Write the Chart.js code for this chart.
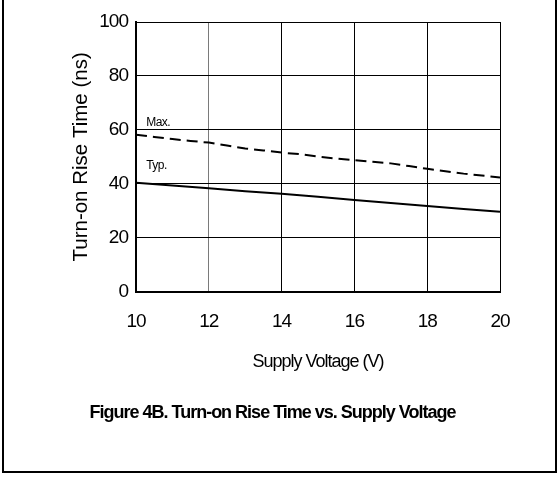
<!DOCTYPE html>
<html>
<head>
<meta charset="utf-8">
<title>Turn-on Rise Time vs. Supply Voltage</title>
<script src="https://cdn.jsdelivr.net/npm/chart.js@4/dist/chart.umd.min.js"></script>
<style>
  html, body { margin: 0; padding: 0; background: #fff; }
  #wrap { position: relative; width: 560px; height: 482px; overflow: hidden; }
  #frame {
    position: absolute; left: 2px; top: -4px; width: 551px; height: 475px;
    border-left: 2px solid #000; border-right: 2px solid #000; border-bottom: 2px solid #000;
    pointer-events: none;
  }
  canvas { position: absolute; left: 0; top: 0; }
</style>
</head>
<body>
<div id="wrap">
  <canvas id="chart" width="560" height="482"></canvas>
  <div id="frame"></div>
</div>
<script>
// Supply voltage (V) and rise time (ns) for the two curves
const maxVolts = [10, 10.5, 11, 11.5, 12, 12.5, 13, 13.5, 14, 14.5, 15, 15.5, 16, 16.5, 17, 17.5, 18, 18.5, 19, 19.5, 20];
const maxTime  = [58.2, 57.4, 56.6, 55.9, 55.3, 54.2, 53.1, 52.4, 51.6, 51.0, 50.1, 49.4, 48.8, 48.2, 47.6, 46.6, 45.6, 44.7, 43.8, 43.1, 42.4];
const typVolts = [10, 11, 12, 13, 14, 15, 16, 17, 18, 19, 20];
const typTime  = [40.4, 39.4, 38.4, 37.3, 36.3, 35.2, 34.0, 32.9, 31.8, 30.7, 29.7];

// Axis ranges and tick steps
const xTicks = { min: 10, max: 20, step: 2 };
const yTicks = { min: 0, max: 100, step: 20 };

// Curve labels, anchored in data units (left edge / baseline)
const curveLabels = [
  { text: 'Max.', x: 10.28, y: 61.3 },
  { text: 'Typ.', x: 10.28, y: 45.7 }
];

const FONT = "'Liberation Sans', Arial, Helvetica, sans-serif";
Chart.defaults.font.family = FONT;
Chart.defaults.color = '#000';

const toPoints = (xs, ys) => xs.map((x, i) => ({ x: x, y: ys[i] }));

// Letter spacing per font size: the axis title keeps normal spacing,
// the other texts are set tight.
function spacingFor(font) {
  if (font.indexOf('20.5px') !== -1) return '0px';
  if (font.indexOf('12px') !== -1) return '-0.5px';
  return '-1px';
}
const tightText = {
  id: 'tightText',
  beforeInit(chart) {
    const ctx = chart.ctx;
    const fill = ctx.fillText;
    const measure = ctx.measureText;
    ctx.fillText = function (t, x, y, w) {
      this.letterSpacing = spacingFor(this.font);
      return w === undefined ? fill.call(this, t, x, y) : fill.call(this, t, x, y, w);
    };
    ctx.measureText = function (t) {
      this.letterSpacing = spacingFor(this.font);
      return measure.call(this, t);
    };
  },
  // centre the figure caption over the framed panel
  afterLayout(chart) {
    const tb = chart.titleBlock;
    if (tb) { tb.left = 0; tb.right = 545; tb.width = 545; }
  }
};

// Small text labels next to each curve
const curveLabelPlugin = {
  id: 'curveLabels',
  afterDatasetsDraw(chart) {
    const ctx = chart.ctx;
    const xs = chart.scales.x, ys = chart.scales.y;
    ctx.save();
    ctx.font = '12px ' + FONT;
    ctx.fillStyle = '#000';
    ctx.textAlign = 'left';
    ctx.textBaseline = 'alphabetic';
    curveLabels.forEach(l => {
      ctx.fillText(l.text, xs.getPixelForValue(l.x), ys.getPixelForValue(l.y));
    });
    ctx.restore();
  }
};

new Chart(document.getElementById('chart'), {
  type: 'line',
  data: {
    datasets: [
      {
        label: 'Max.',
        data: toPoints(maxVolts, maxTime),
        borderColor: '#000',
        borderWidth: 2,
        borderDash: [11, 6],
        pointRadius: 0,
        tension: 0,
        fill: false
      },
      {
        label: 'Typ.',
        data: toPoints(typVolts, typTime),
        borderColor: '#000',
        borderWidth: 2,
        pointRadius: 0,
        tension: 0,
        fill: false
      }
    ]
  },
  options: {
    responsive: false,
    animation: false,
    devicePixelRatio: 1,
    layout: { padding: { left: 0, right: 60, top: 22, bottom: 58.4 } },
    plugins: {
      legend: { display: false },
      tooltip: { enabled: false },
      title: {
        display: true,
        position: 'bottom',
        text: 'Figure 4B. Turn-on Rise Time vs. Supply Voltage',
        color: '#000',
        font: { family: FONT, size: 18, weight: 'bold', lineHeight: 1.2 },
        padding: { top: 25.2, bottom: 0 }
      }
    },
    scales: {
      x: {
        type: 'linear',
        min: xTicks.min,
        max: xTicks.max,
        afterFit(scale) { scale.height = 85; },
        ticks: {
          stepSize: xTicks.step,
          padding: 19,
          color: '#000',
          font: { family: FONT, size: 19, lineHeight: 1.2 }
        },
        grid: {
          drawTicks: false,
          lineWidth: 1,
          color: c => (c.tick && c.tick.value === 12) ? '#7a7a7a' : '#000'
        },
        border: { display: true, color: '#000', width: 2 },
        title: {
          display: true,
          text: 'Supply Voltage (V)',
          color: '#000',
          font: { family: FONT, size: 18, lineHeight: 1.2 },
          padding: { top: 0, bottom: 4.2 }
        }
      },
      y: {
        type: 'linear',
        min: yTicks.min,
        max: yTicks.max,
        afterFit(scale) { scale.width = 136; },
        ticks: {
          stepSize: yTicks.step,
          padding: 8,
          color: '#000',
          font: { family: FONT, size: 19, lineHeight: 1.2 }
        },
        grid: { drawTicks: false, lineWidth: 1, color: '#000' },
        border: { display: true, color: '#000', width: 2 },
        title: {
          display: true,
          text: 'Turn-on Rise Time (ns)',
          color: '#000',
          font: { family: FONT, size: 20.5, lineHeight: 1.2 },
          padding: { top: 68.7, bottom: 0 }
        }
      }
    }
  },
  plugins: [tightText, curveLabelPlugin]
});
</script>
</body>
</html>
